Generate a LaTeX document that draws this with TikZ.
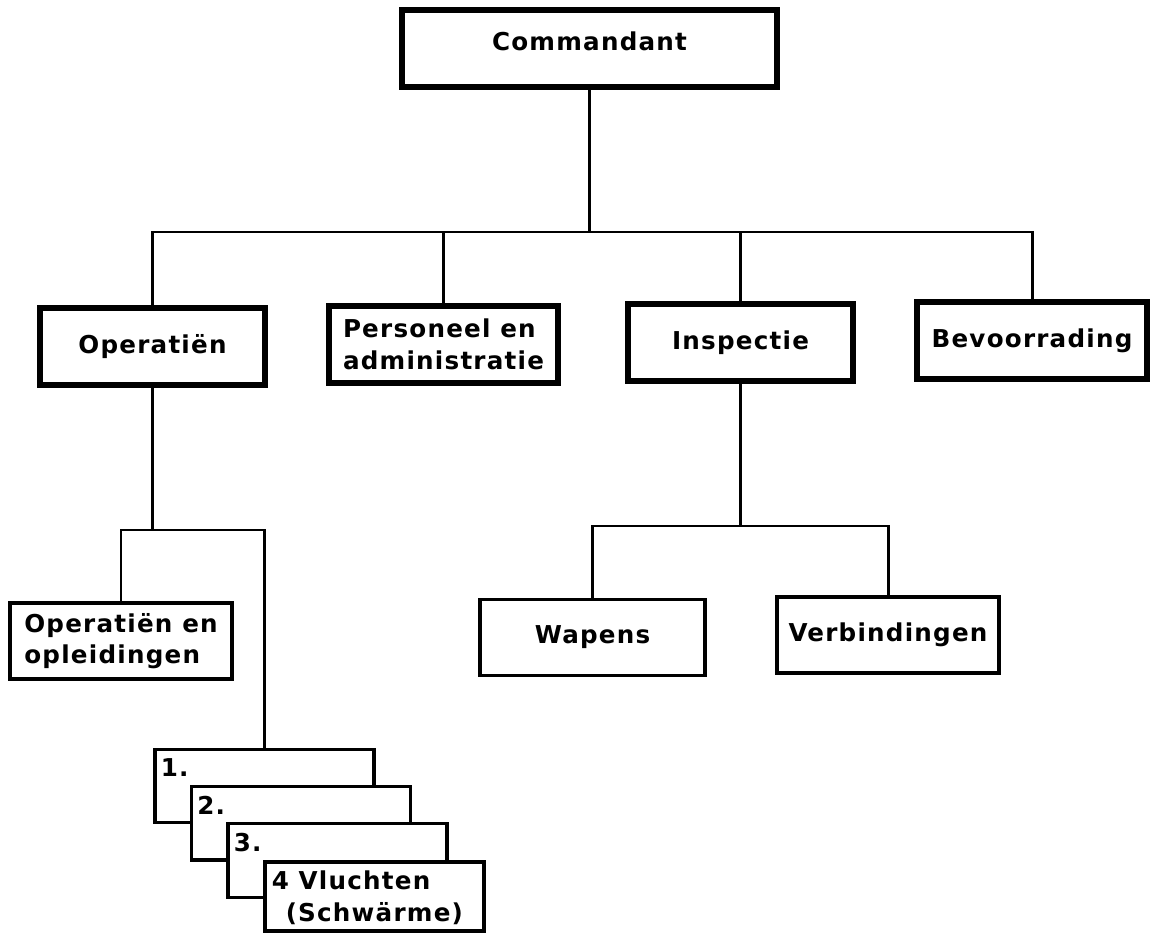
\documentclass[tikz,border=0pt]{standalone}
\usepackage{fontspec}
\newfontfamily\orgfont[LetterSpace=5]{DejaVu Sans}
\newcommand{\orgtext}{\orgfont\bfseries\fontsize{14}{18}\selectfont}

\tikzset{
	topbox/.style={draw, line width=3pt, fill=white, minimum width=4.5cm,
		minimum height=1.54cm, align=left, font=\orgtext},
	subbox/.style={draw, line width=1.8pt, fill=white, minimum width=4.44cm,
		minimum height=1.52cm, align=left, font=\orgtext},
	stackbox/.style={draw, line width=1.8pt, fill=white, minimum width=4.38cm,
		minimum height=1.47cm},
	stacklbl/.style={anchor=north west, inner sep=0pt, align=left, font=\orgtext},
	link/.style={line width=1.7pt, line join=miter},
}

\begin{document}
\begin{tikzpicture}[x=1cm, y=1cm]
\fill [white] (0,0) rectangle (23.04,-18.66);

\node [topbox, minimum width=7.5cm, text depth=0.3cm] (cmd) at (11.79,-0.97) {Commandant};
\node [topbox] (ops) at (3.05,-6.93) {Operatiën};
\node [topbox, minimum width=4.58cm] (pers) at (8.87,-6.89) {Personeel en\\administratie};
\node [topbox] (insp) at (14.81,-6.85) {Inspectie};
\node [topbox, minimum width=4.6cm] (bev) at (20.64,-6.81) {Bevoorrading};

\node [subbox] (opl) at (2.42,-12.82) {Operatiën en\\opleidingen};
\node [subbox, minimum width=4.5cm] (wap) at (11.85,-12.75) {Wapens};
\node [subbox] (verb) at (17.76,-12.7) {Verbindingen};

\coordinate (bus) at (0,-4.64);
\coordinate (opsbus) at (0,-10.6);
\coordinate (inspbus) at (0,-10.52);

\draw [link] (cmd.south) -- (cmd |- bus);
\draw [link] (ops.north) -- (ops |- bus) -- (bev |- bus) -- (bev.north);
\foreach \n in {pers,insp}{
	\draw [link] (\n |- bus) -- (\n.north);
}

% Vluchten, stacked
\foreach \i in {1,2,3}{
	\pgfmathsetmacro{\sx}{5.29+(\i-1)*0.73}
	\pgfmathsetmacro{\sy}{-15.72-(\i-1)*0.745}
	\node [stackbox] (fl\i) at (\sx,\sy) {};
	\node [stacklbl] (fl\i-lbl) at ([shift={(0.14,-0.22)}]fl\i.north west) {\i.};
}
\node [stackbox, minimum height=1.38cm] (fl4) at (7.49,-17.93) {};
\node [stacklbl] (fl4-lbl) at ([shift={(0.16,-0.2)}]fl4.north west)
	{4 Vluchten\\\hspace*{0.28cm}(Schwärme)};

\draw [link] (ops.south) -- (ops |- opsbus);
\draw [link] (opl.north) -- (opl |- opsbus) -- (fl1 |- opsbus) -- (fl1.north);

\draw [link] (insp.south) -- (insp |- inspbus);
\draw [link] (wap.north) -- (wap |- inspbus) -- (verb |- inspbus) -- (verb.north);
\end{tikzpicture}
\end{document}
